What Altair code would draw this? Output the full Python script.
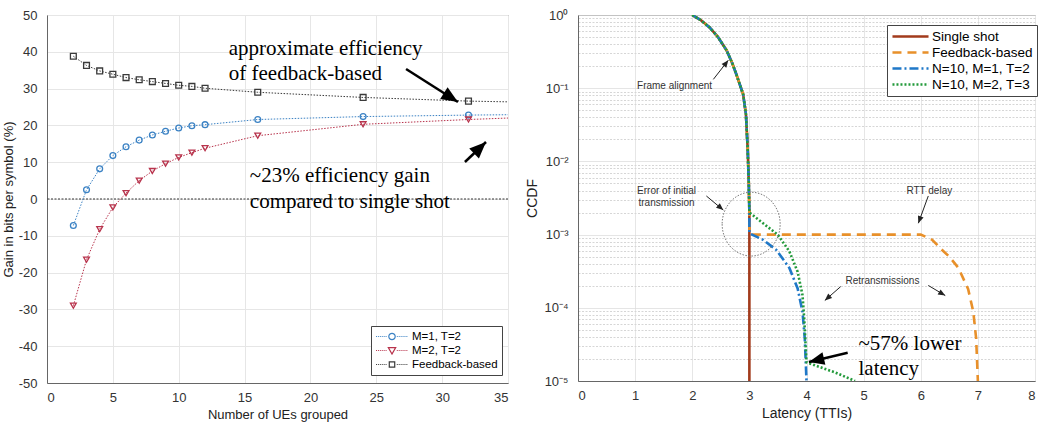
import altair as alt
import pandas as pd

# ---------------- Left panel data (gain vs. number of UEs) ----------------
left_series = ["M=1, T=2", "M=2, T=2", "Feedback-based"]
left_colors = ["#3b82c4", "#b8334c", "#3a3a3a"]
left_shapes = ["circle", "triangle-down", "square"]
ues = [2, 3, 4, 5, 6, 7, 8, 9, 10, 11, 12, 16, 24, 32]
gain_m1t2 = [-7.2, 2.5, 8.2, 11.8, 14.2, 16.0, 17.4, 18.4, 19.3, 19.9, 20.2, 21.6, 22.4, 22.8]
gain_m2t2 = [-29.0, -16.5, -8.2, -2.3, 1.6, 5.0, 7.6, 9.6, 11.3, 12.6, 13.8, 17.2, 20.3, 21.6]
gain_feedback = [38.8, 36.3, 34.8, 33.9, 33.0, 32.4, 31.9, 31.4, 30.9, 30.6, 30.1, 29.0, 27.6, 26.6]
ue_edge = 35
gain_edge = [22.9, 22.0, 26.4]   # line values at the right edge (no markers)

# ---------------- Right panel data (CCDF of latency) ----------------
right_series = ["Single shot", "Feedback-based", "N=10, M=1, T=2", "N=10, M=2, T=3"]
right_colors = ["#a23b1c", "#e8902a", "#1f78c8", "#239a3b"]
right_dashes = [[1, 0], [9, 6], [9, 3, 2, 3], [2, 2]]
align_x = [2.0, 2.15, 2.3, 2.45, 2.6, 2.7, 2.77, 2.89, 2.94, 2.97, 2.99, 3.0]
align_y = [1.0, 0.85, 0.68, 0.5, 0.33, 0.22, 0.156, 0.083, 0.044, 0.015, 0.005, 0.002]
single_x = [3.0]
single_y = [1e-5]
feedback_x = [3.0, 6.0, 6.2, 6.37, 6.5, 6.66, 6.83, 6.92, 6.97, 7.0]
feedback_y = [1e-3, 1e-3, 8.5e-4, 6.2e-4, 5e-4, 3.5e-4, 1.8e-4, 8.8e-5, 3.8e-5, 1e-5]
m1_x = [3.0, 3.24, 3.47, 3.70, 3.845, 3.93, 3.97, 4.0]
m1_y = [1.04e-3, 8.5e-4, 6.2e-4, 3.5e-4, 1.84e-4, 8.8e-5, 3.8e-5, 1e-5]
m2_x = [3.24, 3.50, 3.70, 3.845, 3.93, 3.96, 4.0, 4.51, 4.85]
m2_y = [1.43e-3, 9.9e-4, 5.9e-4, 3.1e-4, 1.49e-4, 7.1e-5, 1.8e-5, 1.3e-5, 1e-5]

# ---------------- Annotations ----------------
left_notes = [("approximate efficiency", 13.8, 40.8), ("of feedback-based", 13.8, 34.0),
              ("~23% efficiency gain", 15.4, 6.2), ("compared to single shot", 15.4, -0.8)]
left_arrows = [(27.26, 35.33, 31.20, 26.36, 32), (31.73, 10.05, 33.33, 15.49, 316)]

right_notes = [("Frame alignment", 1.69, 0.106), ("Error of initial", 1.55, 3.94e-3),
               ("transmission", 1.55, 2.70e-3), ("RTT delay", 6.15, 3.94e-3),
               ("Retransmissions", 5.33, 2.29e-4)]
right_big_notes = [("~57% lower", 4.91, 3.22e-5), ("latency", 4.91, 1.46e-5)]
right_arrows = [(2.369, 0.132, 2.631, 0.241, 308), (2.247, 3.37e-3, 2.544, 2.16e-3, 40),
                (6.132, 3.37e-3, 5.958, 1.43e-3, 110), (4.599, 1.95e-4, 4.321, 1.26e-4, 139),
                (6.132, 2.02e-4, 6.429, 1.47e-4, 30)]
right_big_arrow = [(4.721, 2.43e-5, 4.042, 1.82e-5, 167)]
circle_note = [(3.031, 1.39e-3)]

SANS = "Liberation Sans"
SERIF = "Liberation Serif"
HEAD = "M 0 0 L -1 -0.42 L -1 0.42 Z"
ELLIPSE = "M -1 0 A 1 1.1 0 1 0 1 0 A 1 1.1 0 1 0 -1 0 Z"

# legend glyphs: dotted line with the series marker in the middle
def dotted(a, b, step=0.12, dot=0.06):
    parts, p = [], a
    while p < b - 1e-9:
        parts.append("M %.3f 0 L %.3f 0" % (p, min(p + dot, b)))
        p += step
    return " ".join(parts)

line_part = dotted(-1.0, -0.28) + " " + dotted(0.30, 1.0)
legend_glyphs = [
    line_part + " M -0.2 0 A 0.2 0.2 0 1 0 0.2 0 A 0.2 0.2 0 1 0 -0.2 0 Z",
    line_part + " M -0.23 -0.18 L 0.23 -0.18 L 0 0.22 Z",
    line_part + " M -0.17 -0.17 L 0.17 -0.17 L 0.17 0.17 L -0.17 0.17 Z",
]

# ---------------- Left axes (same spec reused in every layer) ----------------
lx_scale = alt.Scale(domain=[0, 35], nice=False)
ly_scale = alt.Scale(domain=[-50, 50], nice=False)
lx_axis = alt.Axis(values=list(range(0, 36, 5)), title="Number of UEs grouped",
                   labelExpr="'' + datum.value")
ly_axis = alt.Axis(values=list(range(-50, 51, 10)), title="Gain in bits per symbol (%)",
                   titlePadding=3, labelOverlap=False, labelExpr="'' + datum.value")

def LX(f):
    return alt.X(f + ":Q", scale=lx_scale, axis=lx_axis)

def LY(f):
    return alt.Y(f + ":Q", scale=ly_scale, axis=ly_axis)

# ---------------- Build left frames ----------------
rows = []
for s, vals, edge in zip(left_series, [gain_m1t2, gain_m2t2, gain_feedback], gain_edge):
    for i, (u, v) in enumerate(zip(ues, vals)):
        rows.append({"series": s, "x": u, "y": v, "idx": i, "marker": True})
    rows.append({"series": s, "x": ue_edge, "y": edge, "idx": len(ues), "marker": False})
left_df = pd.DataFrame(rows)
lnotes = pd.DataFrame(left_notes, columns=["text", "x", "y"])
larrows = pd.DataFrame(left_arrows, columns=["x1", "y1", "x2", "y2", "angle"])

zero_line = alt.Chart(pd.DataFrame({"y": [0]})).mark_rule(
    color="#333", strokeDash=[2, 1.5], strokeWidth=1).encode(y=LY("y"))
base_left = alt.Chart(left_df)
left_layers = [zero_line]
for s, c, sh in zip(left_series, left_colors, left_shapes):
    sub = base_left.transform_filter(alt.datum.series == s)
    left_layers.append(sub.mark_line(strokeDash=[1.5, 1.5], strokeWidth=1, color=c).encode(
        x=LX("x"), y=LY("y"), order="idx:Q"))
    left_layers.append(sub.transform_filter("datum.marker").mark_point(
        filled=False, size=34, strokeWidth=1.3, color=c, shape=sh, opacity=1).encode(
        x=LX("x"), y=LY("y")))

legend_layer = base_left.transform_filter("false").mark_point(filled=False, opacity=1).encode(
    x=LX("x"), y=LY("y"),
    color=alt.Color("series:N", scale=alt.Scale(domain=left_series, range=left_colors),
                    legend=alt.Legend(title=None, orient="none", legendX=324, legendY=311,
                                      fillColor="white", strokeColor="#444", padding=4,
                                      labelFontSize=11.5, labelFont=SANS, symbolSize=1024,
                                      symbolStrokeWidth=1.2, rowPadding=1, clipHeight=13,
                                      labelOffset=3)),
    shape=alt.Shape("series:N", scale=alt.Scale(domain=left_series, range=legend_glyphs)))

left_text = alt.Chart(lnotes).mark_text(font=SERIF, fontSize=21, align="left",
                                         baseline="middle", color="black").encode(
    x=LX("x"), y=LY("y"), text="text:N")
left_shafts = alt.Chart(larrows).mark_rule(color="black", strokeWidth=2.5).encode(
    x=LX("x1"), y=LY("y1"), x2="x2:Q", y2="y2:Q")
left_heads = alt.Chart(larrows).mark_point(shape=HEAD, filled=True, color="black",
                                           size=1100, opacity=1).encode(
    x=LX("x2"), y=LY("y2"), angle=alt.Angle("angle:Q", scale=None))

left = alt.layer(*left_layers, legend_layer, left_text, left_shafts, left_heads).properties(
    width=461, height=368)

# ---------------- Right axes ----------------
decades = [1e-5, 1e-4, 1e-3, 1e-2, 1e-1, 1.0]
ytick_values = []
for d in decades[:-1]:
    ytick_values += [d * k for k in range(1, 10)]
ytick_values.append(1.0)
is_decade = "abs(log(datum.value)/LN10 - round(log(datum.value)/LN10)) < 0.001"
label_expr = ("(" + is_decade + ") ? '10' + (datum.value < 0.5 ? '⁻' : '') + "
              "['⁰','¹','²','³','⁴','⁵'][abs(round(log(datum.value)/LN10))] : ''")

rx_scale = alt.Scale(domain=[0, 8], nice=False)
ry_scale = alt.Scale(type="log", domain=[1e-5, 1], nice=False)
rx_axis = alt.Axis(values=list(range(0, 9)), title="Latency (TTIs)", titleFontSize=14,
                   labelExpr="'' + datum.value")
ry_axis = alt.Axis(values=ytick_values, labelExpr=label_expr, title="CCDF",
                   titleFontSize=14, labelFontSize=13, titlePadding=4, labelOverlap=False,
                   gridDash={"condition": {"test": is_decade, "value": [1, 0]}, "value": [2, 1.5]},
                   gridColor={"condition": {"test": is_decade, "value": "#dddddd"}, "value": "#d6d6d6"})

def RX(f):
    return alt.X(f + ":Q", scale=rx_scale, axis=rx_axis)

def RY(f):
    return alt.Y(f + ":Q", scale=ry_scale, axis=ry_axis)

# ---------------- Build right frames ----------------
rows = []
own = {"Single shot": (single_x, single_y), "Feedback-based": (feedback_x, feedback_y),
       "N=10, M=1, T=2": (m1_x, m1_y), "N=10, M=2, T=3": (m2_x, m2_y)}
for s in right_series:
    xs = align_x + own[s][0]
    ys = align_y + own[s][1]
    for i, (a, b) in enumerate(zip(xs, ys)):
        rows.append({"series": s, "x": a, "y": b, "idx": i})
right_df = pd.DataFrame(rows)
rnotes = pd.DataFrame(right_notes, columns=["text", "x", "y"])
rbig = pd.DataFrame(right_big_notes, columns=["text", "x", "y"])
rarrows = pd.DataFrame(right_arrows, columns=["x1", "y1", "x2", "y2", "angle"])
rbigarrow = pd.DataFrame(right_big_arrow, columns=["x1", "y1", "x2", "y2", "angle"])
rcircle = pd.DataFrame(circle_note, columns=["x", "y"])

right_lines = alt.Chart(right_df).mark_line(strokeWidth=2.6, clip=True).encode(
    x=RX("x"), y=RY("y"),
    color=alt.Color("series:N", scale=alt.Scale(domain=right_series, range=right_colors),
                    legend=alt.Legend(title=None, orient="none", legendX=309, legendY=10,
                                      fillColor="white", strokeColor="#444", padding=4,
                                      labelFontSize=13.5, labelFont=SANS, symbolType="stroke",
                                      symbolSize=1300, symbolStrokeWidth=2.6, rowPadding=1,
                                      labelOffset=2, clipHeight=15)),
    strokeDash=alt.StrokeDash("series:N", scale=alt.Scale(domain=right_series, range=right_dashes)),
    order="idx:Q")
right_ellipse = alt.Chart(rcircle).mark_point(shape=ELLIPSE, size=3364, filled=False,
                                              color="#777", strokeWidth=1, strokeDash=[1.5, 1.5],
                                              opacity=1).encode(x=RX("x"), y=RY("y"))
right_text = alt.Chart(rnotes).mark_text(font=SANS, fontSize=10, align="center",
                                          baseline="middle", color="#333").encode(
    x=RX("x"), y=RY("y"), text="text:N")
right_big_text = alt.Chart(rbig).mark_text(font=SERIF, fontSize=21, align="left",
                                           baseline="middle", color="black").encode(
    x=RX("x"), y=RY("y"), text="text:N")
right_shafts = alt.Chart(rarrows).mark_rule(color="#222", strokeWidth=1).encode(
    x=RX("x1"), y=RY("y1"), x2="x2:Q", y2="y2:Q")
right_heads = alt.Chart(rarrows).mark_point(shape=HEAD, filled=True, color="#222",
                                            size=200, opacity=1).encode(
    x=RX("x2"), y=RY("y2"), angle=alt.Angle("angle:Q", scale=None))
big_shaft = alt.Chart(rbigarrow).mark_rule(color="black", strokeWidth=2.5).encode(
    x=RX("x1"), y=RY("y1"), x2="x2:Q", y2="y2:Q")
big_head = alt.Chart(rbigarrow).mark_point(shape=HEAD, filled=True, color="black",
                                           size=950, opacity=1).encode(
    x=RX("x2"), y=RY("y2"), angle=alt.Angle("angle:Q", scale=None))

right = alt.layer(right_lines, right_ellipse, right_text, right_big_text,
                  right_shafts, right_heads, big_shaft, big_head).properties(width=457, height=366)

chart = alt.hconcat(left, right, spacing=70, bounds="flush").resolve_scale(
    color="independent", shape="independent", strokeDash="independent").properties(
    padding={"left": 1, "top": 8, "right": 0, "bottom": 0}
).configure_view(stroke="#777", strokeWidth=1).configure_axis(
    labelFont=SANS, titleFont=SANS, labelFontSize=13, titleFontSize=13,
    labelColor="#333", titleColor="#222", titleFontWeight="normal", labelOverlap=False,
    domainColor="#666", ticks=False, labelPadding=8, gridColor="#e6e6e6"
).configure_axisY(labelPadding=10)

chart.save("out.html", embed_options={"renderer": "svg", "actions": False})
